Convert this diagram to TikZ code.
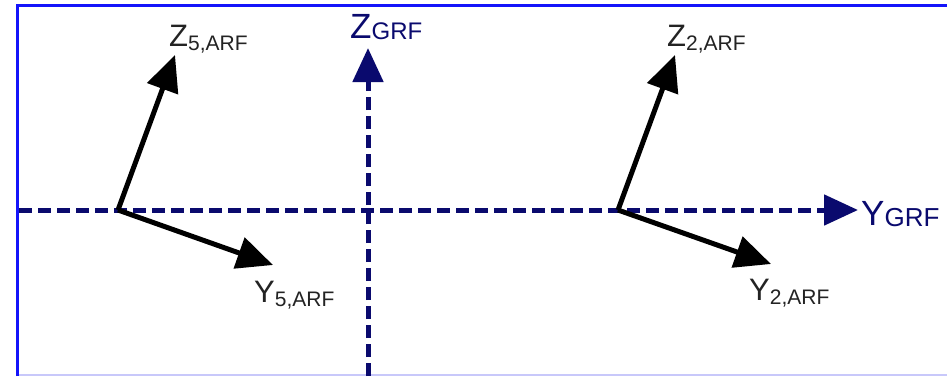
\documentclass[tikz,border=0pt]{standalone}
\usepackage{fontspec}
\setmainfont{Liberation Sans}
\usetikzlibrary{arrows.meta}
\definecolor{axisnavy}{RGB}{10,10,110}
\definecolor{framblue}{RGB}{20,20,250}
\definecolor{lightblue}{RGB}{200,200,250}
\definecolor{labgray}{RGB}{35,35,35}
\newcommand{\lab}[4]{#1{\fontsize{#4}{#4}\selectfont\raisebox{-#3pt}{#2}}}
\tikzset{
  x=1pt,y=-1pt,
  axisline/.style={draw=axisnavy,line width=5pt,dash pattern=on 13pt off 6pt},
  axishead/.style={draw=axisnavy,line width=5pt,solid,-{Triangle[length=34pt,width=30pt]}},
  framearrow/.style={draw=black,line width=5pt,-{Triangle[length=36pt,width=32pt]}},
  biglab/.style={inner sep=0pt,font=\fontsize{31}{31}\selectfont},
  grflab/.style={inner sep=0pt,font=\fontsize{35}{35}\selectfont,text=axisnavy},
  arflab/.style={biglab,text=labgray}
}
\begin{document}
\begin{tikzpicture}
\useasboundingbox (0,0) rectangle (947,376);
\fill[white] (0,0) rectangle (947,376);
% frame
\draw[framblue,line width=3pt] (17.5,376) -- (17.5,5) -- (947,5);
\draw[lightblue,line width=2pt] (19,375) -- (947,375);
% axes
\coordinate (ystart) at (19,210);
\coordinate (yhead) at (820,210);
\coordinate (yend) at (858,210);
\coordinate (zstart) at (368,376);
\coordinate (zhead) at (368,84);
\coordinate (zend) at (368,48);
\draw[axisline] (ystart) -- (yhead);
\draw[axisline] (zstart) -- (zhead);
\draw[axishead] (yhead) -- (yend);
\draw[axishead] (zhead) -- (zend);
\node[grflab,anchor=base west] (ygrf) at (861,225) {\lab{Y}{GRF}{1}{26}};
\node[grflab,anchor=base west] (zgrf) at (350,38) {\lab{Z}{GRF}{1}{24}};
% frame 5
\coordinate (o5) at (118,210);
\coordinate (z5) at (175,55);
\coordinate (y5) at (273,265);
\draw[framearrow] (o5) -- (z5);
\draw[framearrow] (o5) -- (y5);
\node[arflab,anchor=base west] (z5lab) at (169,46) {\lab{Z}{5,ARF}{4}{21}};
\node[arflab,anchor=base west] (y5lab) at (254,302) {\lab{Y}{5,ARF}{4}{21}};
% frame 2
\coordinate (o2) at (618,210);
\coordinate (z2) at (675,55);
\coordinate (y2) at (771,264);
\draw[framearrow] (o2) -- (z2);
\draw[framearrow] (o2) -- (y2);
\node[arflab,anchor=base west] (z2lab) at (667,46) {\lab{Z}{2,ARF}{4}{21}};
\node[arflab,anchor=base west] (y2lab) at (749,300) {\lab{Y}{2,ARF}{4}{21}};
\end{tikzpicture}
\end{document}
